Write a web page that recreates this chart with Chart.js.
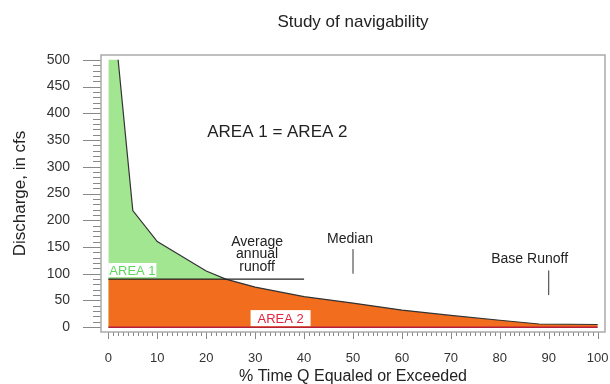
<!DOCTYPE html>
<html>
<head>
<meta charset="utf-8">
<script src="https://cdn.jsdelivr.net/npm/chart.js@4.4.0/dist/chart.umd.min.js"></script>
<style>
  html, body { margin: 0; padding: 0; background: #fff; }
  #wrap { width: 610px; height: 384px; }
</style>
</head>
<body>
<div id="wrap"><canvas id="flow-chart" width="610" height="384"></canvas></div>
<script>
// Flow duration curve
const pctTime   = [2, 5, 10, 20, 24, 30, 40, 50, 60, 70, 80, 88, 100];
const discharge = [500, 218, 160, 105, 90, 75, 57, 45, 32, 22, 13, 6, 5];

const avgRunoff = 90;        // cfs
const avgRunoffEnd = 40;     // % where the drawn line stops
const medianPct = 50;
const medianTick = [100, 146];
const basePct = 90;
const baseTick = [60, 106];

const xTicks = [0, 10, 20, 30, 40, 50, 60, 70, 80, 90, 100];
const yTicks = [0, 50, 100, 150, 200, 250, 300, 350, 400, 450, 500];

const FONT = '"Liberation Sans", Arial, sans-serif';
const ORANGE = '#f26d1d';
const GREEN = '#a3e692';

function pts(xs, ys) {
    return xs.map((v, i) => ({ x: v, y: ys[i] }));
}

// area 1 sits under the curve, area 2 is everything under the average line
const area1Data = [{ x: 0, y: discharge[0] }].concat(pts(pctTime, discharge));
const area2Data = [{ x: 0, y: avgRunoff }].concat(pts(pctTime, discharge.map(d => Math.min(d, avgRunoff))));

const frameAndTicks = {
    id: 'frameAndTicks',
    afterDraw(chart) {
        const { ctx, chartArea: a, scales: { x, y } } = chart;
        ctx.save();
        ctx.strokeStyle = '#888';
        ctx.lineWidth = 1;
        ctx.beginPath();
        for (let v = 0; v <= 500; v += 10) {
            const py = Math.round(y.getPixelForValue(v)) + 0.5;
            const len = v % 50 === 0 ? 18 : 8;
            ctx.moveTo(a.left - len, py);
            ctx.lineTo(a.left, py);
        }
        for (let v = 0; v <= 100; v += 1) {
            const px = Math.round(x.getPixelForValue(v)) + 0.5;
            const len = v % 10 === 0 ? 7 : 4;
            ctx.moveTo(px, a.bottom);
            ctx.lineTo(px, a.bottom + len);
        }
        ctx.stroke();

        ctx.strokeStyle = '#aaa';
        ctx.lineWidth = 1.5;
        ctx.strokeRect(a.left, a.top, a.right - a.left, a.bottom - a.top);
        ctx.restore();
    }
};

const annotations = {
    id: 'annotations',
    afterDatasetsDraw(chart) {
        const { ctx, chartArea: a, scales: { x, y } } = chart;
        ctx.save();
        ctx.textBaseline = 'middle';

        // title
        ctx.fillStyle = '#222';
        ctx.font = '17px ' + FONT;
        ctx.textAlign = 'center';
        ctx.fillText('Study of navigability', (a.left + a.right) / 2, 22);

        ctx.font = '17px ' + FONT;
        ctx.textAlign = 'left';
        ctx.fillText('AREA 1 = AREA 2', x.getPixelForValue(20.2), y.getPixelForValue(364));

        ctx.font = '14px ' + FONT;
        ctx.textAlign = 'center';
        ctx.fillText('Average', x.getPixelForValue(30.4), y.getPixelForValue(159));
        ctx.fillText('annual', x.getPixelForValue(30.4), y.getPixelForValue(136));
        ctx.fillText('runoff', x.getPixelForValue(30.4), y.getPixelForValue(112));
        ctx.fillText('Median', x.getPixelForValue(49.4), y.getPixelForValue(164));
        ctx.fillText('Base Runoff', x.getPixelForValue(86.1), y.getPixelForValue(127));

        // boxed area labels
        ctx.font = '13px ' + FONT;
        ctx.textAlign = 'left';
        let px = x.getPixelForValue(0), py = y.getPixelForValue(107);
        ctx.fillStyle = '#fff';
        ctx.fillRect(px, py - 7, 48, 14);
        ctx.fillStyle = '#5ed65e';
        ctx.fillText('AREA 1', px + 1, py + 1);

        px = x.getPixelForValue(35.2);
        py = y.getPixelForValue(17);
        ctx.fillStyle = '#fff';
        ctx.fillRect(px - 30, py - 8, 60, 16);
        ctx.fillStyle = '#e3243c';
        ctx.textAlign = 'center';
        ctx.fillText('AREA 2', px, py + 1);
        ctx.restore();
    }
};

new Chart(document.getElementById('flow-chart'), {
    type: 'line',
    data: {
        datasets: [
            {
                label: 'zero',
                data: [{ x: 0, y: 0 }, { x: 100, y: 0 }],
                borderColor: '#b5213c',
                borderWidth: 1.5,
                pointRadius: 0,
                fill: false
            },
            {
                label: 'median',
                data: medianTick.map(v => ({ x: medianPct, y: v })),
                borderColor: '#333',
                borderWidth: 1,
                pointRadius: 0,
                fill: false
            },
            {
                label: 'base',
                data: baseTick.map(v => ({ x: basePct, y: v })),
                borderColor: '#333',
                borderWidth: 1,
                pointRadius: 0,
                fill: false
            },
            {
                label: 'Average annual runoff',
                data: [{ x: 0, y: avgRunoff }, { x: avgRunoffEnd, y: avgRunoff }],
                borderColor: '#222',
                borderWidth: 1.2,
                pointRadius: 0,
                fill: false
            },
            {
                label: 'Flow duration',
                data: pts(pctTime, discharge),
                borderColor: '#333',
                borderWidth: 1.2,
                pointRadius: 0,
                fill: false
            },
            {
                label: 'AREA 2',
                data: area2Data,
                borderWidth: 0,
                borderColor: 'rgba(0,0,0,0)',
                backgroundColor: ORANGE,
                pointRadius: 0,
                fill: 'origin'
            },
            {
                label: 'AREA 1',
                data: area1Data,
                borderWidth: 0,
                borderColor: 'rgba(0,0,0,0)',
                backgroundColor: GREEN,
                pointRadius: 0,
                fill: 'origin'
            }
        ]
    },
    options: {
        responsive: false,
        animation: false,
        devicePixelRatio: 1,
        layout: { padding: { top: 55, right: 5, left: 0, bottom: 0 } },
        plugins: {
            legend: { display: false },
            tooltip: { enabled: false },
            title: { display: false }
        },
        scales: {
            x: {
                type: 'linear',
                min: -1.5,
                max: 101.5,
                afterBuildTicks: s => { s.ticks = xTicks.map(v => ({ value: v })); },
                afterFit: s => { s.height = 52; s.paddingLeft = 0; s.paddingRight = 0; },
                grid: { display: false, drawTicks: false },
                border: { display: false },
                ticks: {
                    autoSkip: false,
                    maxRotation: 0,
                    padding: 19,
                    color: '#333',
                    font: { family: FONT, size: 13 }
                },
                title: {
                    display: true,
                    text: '% Time Q Equaled or Exceeded',
                    color: '#222',
                    font: { family: FONT, size: 16, lineHeight: 0.75 },
                    padding: { top: 0, bottom: 1 }
                }
            },
            y: {
                min: -9,
                max: 509,
                afterBuildTicks: s => { s.ticks = yTicks.map(v => ({ value: v })); },
                afterFit: s => { s.width = 101; s.paddingTop = 0; s.paddingBottom = 0; },
                grid: { display: false, drawTicks: false },
                border: { display: false },
                ticks: {
                    padding: 31,
                    color: '#333',
                    font: { family: FONT, size: 14 }
                },
                title: {
                    display: true,
                    text: 'Discharge, in cfs',
                    color: '#222',
                    font: { family: FONT, size: 17, lineHeight: 1.2 },
                    padding: { top: 10, bottom: 0 }
                }
            }
        }
    },
    plugins: [annotations, frameAndTicks]
});
</script>
</body>
</html>
